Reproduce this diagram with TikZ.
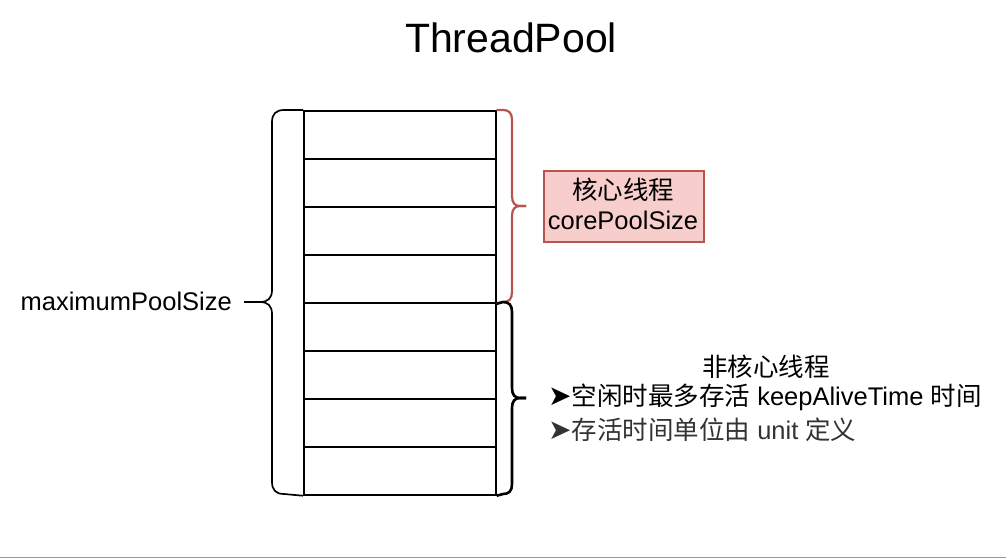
\documentclass[tikz,border=0pt]{standalone}
\usepackage{fontspec}
\setmainfont{Liberation Sans}
\newfontfamily\cjk{Noto Sans CJK SC}
\newfontfamily\dejavu{DejaVu Sans}
\definecolor{redline}{HTML}{B85450}
\definecolor{redfill}{HTML}{F8CECC}
\definecolor{darktext}{HTML}{333333}
\begin{document}
\begin{tikzpicture}[x=1pt,y=-1pt,
  rowcell/.style={draw=black,line width=1.7pt,minimum width=192pt,minimum height=48pt,inner sep=0pt,anchor=north west},
  lbl/.style={inner sep=0pt,font=\fontsize{25.5}{30}\selectfont},
  bracebk/.style={draw=black,line width=1.7pt},
  bracered/.style={draw=redline,line width=2.2pt},
  bracebold/.style={draw=black,line width=2.6pt},
  arrowch/.style={}]
\useasboundingbox (0,0) rectangle (1006,558);
\fill[white] (0,0) rectangle (1006,558);
\draw[gray!80,line width=1.2pt] (0,557.4) -- (1006,557.4);
% title
\node[inner sep=0pt,font=\fontsize{41}{48}\selectfont] (title) at (511,38) {ThreadPool};
% table rows
\foreach \i in {0,...,7}{
  \node[rowcell] (r\i) at (303,{110+48*\i}) {};
}
\coordinate (tl) at (r0.north west);
\coordinate (bl) at (r7.south west);
\coordinate (tr) at (r0.north east);
\coordinate (mr) at (r3.south east);
\coordinate (br) at (r7.south east);
% left brace
\coordinate (ltip) at (244,302);
\draw[bracebk] (tl) -- (284,110) .. controls (276,110) and (272,114) .. (272,122)
  -- (272,290) .. controls (272,298) and (268,302) .. (260,302) -- (ltip);
\draw[bracebk] (ltip) -- (260,302) .. controls (268,302) and (272,306) .. (272,314)
  -- (272,482) .. controls (272,490) and (276,494) .. (284,494) -- (bl);
% red brace (core)
\coordinate (rtip) at (526,206);
\draw[bracered] (tr) -- (503,110) .. controls (509,110) and (512,113) .. (512,120)
  -- (512,196) .. controls (512,203) and (515,206) .. (520,206) -- (rtip);
\draw[bracered] (rtip) -- (520,206) .. controls (515,206) and (512,209) .. (512,216)
  -- (512,292) .. controls (512,299) and (509,302) .. (503,302) -- (mr);
% black brace (non-core)
\coordinate (btip) at (526,398);
\draw[bracebold] (mr) -- (503,302) .. controls (509,302) and (512,305) .. (512,312)
  -- (512,388) .. controls (512,395) and (515,398) .. (520,398) -- (btip);
\draw[bracebold] (btip) -- (520,398) .. controls (515,398) and (512,401) .. (512,408)
  -- (512,484) .. controls (512,491) and (509,494) .. (503,494) -- (br);
% labels
\node[lbl,anchor=east] (maxl) at (232,301) {maximumPoolSize};
\node[draw=redline,fill=redfill,line width=1.5pt,minimum width=160pt,minimum height=71pt,inner sep=0pt,anchor=north west] (core) at (543,170) {};
\node[lbl] (core1) at (623,190) {\cjk 核心线程};
\node[lbl] (core2) at (623,220) {corePoolSize};
\node[lbl] (nc1) at (766,367) {\cjk 非核心线程};
\node[lbl,anchor=west] (nc2) at (548,397) {{\dejavu\fontsize{28}{30}\selectfont ➤}\cjk 空闲时最多存活\rmfamily{} keepAliveTime \cjk 时间};
\node[lbl,anchor=west,text=darktext] (nc3) at (548,430) {{\dejavu\fontsize{28}{30}\selectfont ➤}\cjk 存活时间单位由\rmfamily{} unit \cjk 定义};
\end{tikzpicture}
\end{document}
